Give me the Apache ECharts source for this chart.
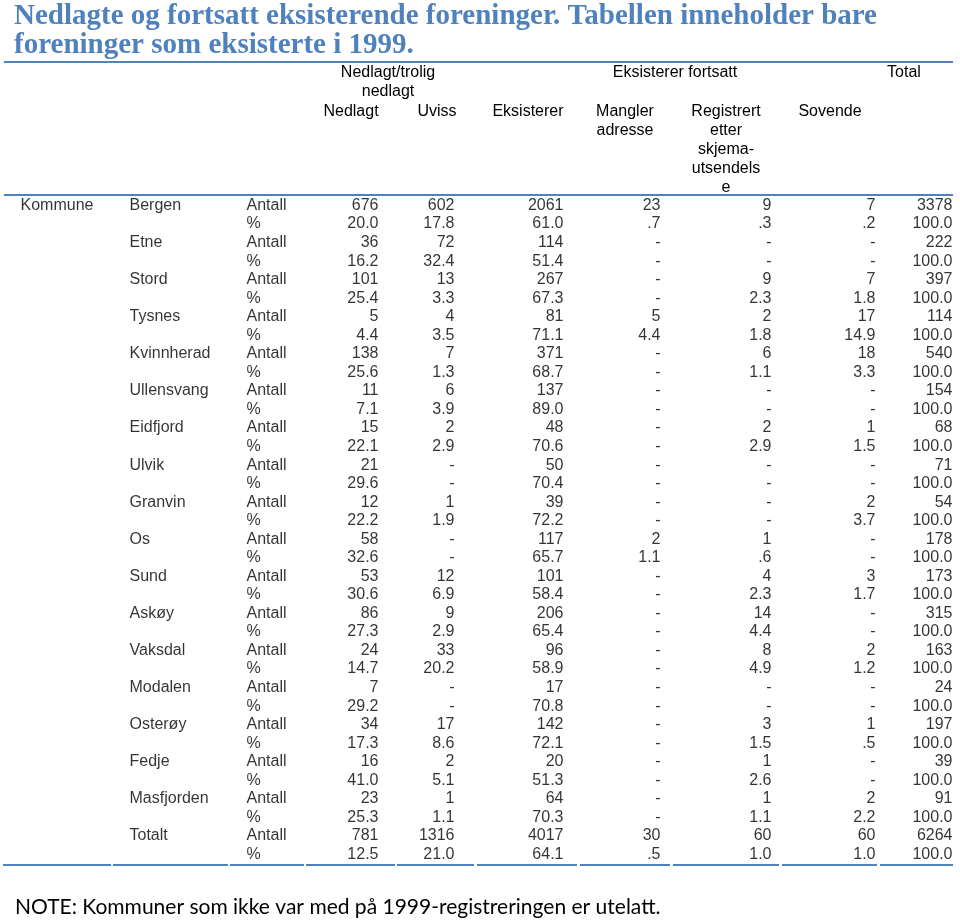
<!DOCTYPE html>
<html>
<head>
<meta charset="utf-8">
<script src="https://cdn.jsdelivr.net/npm/echarts@6/dist/echarts.min.js"></script>
<style>
  html, body { margin: 0; padding: 0; background: #fff; }
  #main { width: 960px; height: 920px; }
</style>
</head>
<body>
<div id="main"></div>
<script>
// kommuner i tabellen, siste rad er totalen
var kommuner = ['Bergen', 'Etne', 'Stord', 'Tysnes', 'Kvinnherad', 'Ullensvang', 'Eidfjord', 'Ulvik', 'Granvin',
  'Os', 'Sund', 'Askøy', 'Vaksdal', 'Modalen', 'Osterøy', 'Fedje', 'Masfjorden', 'Totalt'];

// null = "-"
var nedlagtAntall = [676, 36, 101, 5, 138, 11, 15, 21, 12, 58, 53, 86, 24, 7, 34, 16, 23, 781];
var nedlagtPst = [20.0, 16.2, 25.4, 4.4, 25.6, 7.1, 22.1, 29.6, 22.2, 32.6, 30.6, 27.3, 14.7, 29.2, 17.3, 41.0, 25.3, 12.5];
var uvissAntall = [602, 72, 13, 4, 7, 6, 2, null, 1, null, 12, 9, 33, null, 17, 2, 1, 1316];
var uvissPst = [17.8, 32.4, 3.3, 3.5, 1.3, 3.9, 2.9, null, 1.9, null, 6.9, 2.9, 20.2, null, 8.6, 5.1, 1.1, 21.0];
var eksAntall = [2061, 114, 267, 81, 371, 137, 48, 50, 39, 117, 101, 206, 96, 17, 142, 20, 64, 4017];
var eksPst = [61.0, 51.4, 67.3, 71.1, 68.7, 89.0, 70.6, 70.4, 72.2, 65.7, 58.4, 65.4, 58.9, 70.8, 72.1, 51.3, 70.3, 64.1];
var manglerAntall = [23, null, null, 5, null, null, null, null, null, 2, null, null, null, null, null, null, null, 30];
var manglerPst = [0.7, null, null, 4.4, null, null, null, null, null, 1.1, null, null, null, null, null, null, null, 0.5];
var regAntall = [9, null, 9, 2, 6, null, 2, null, null, 1, 4, 14, 8, null, 3, 1, 1, 60];
var regPst = [0.3, null, 2.3, 1.8, 1.1, null, 2.9, null, null, 0.6, 2.3, 4.4, 4.9, null, 1.5, 2.6, 1.1, 1.0];
var sovAntall = [7, null, 7, 17, 18, null, 1, null, 2, null, 3, null, 2, null, 1, null, 2, 60];
var sovPst = [0.2, null, 1.8, 14.9, 3.3, null, 1.5, null, 3.7, null, 1.7, null, 1.2, null, 0.5, null, 2.2, 1.0];
var totalAntall = [3378, 222, 397, 114, 540, 154, 68, 71, 54, 178, 173, 315, 163, 24, 197, 39, 91, 6264];
var totalPst = [100.0, 100.0, 100.0, 100.0, 100.0, 100.0, 100.0, 100.0, 100.0, 100.0, 100.0, 100.0, 100.0, 100.0, 100.0, 100.0, 100.0, 100.0];

var kolonneNavn = ['Nedlagt', 'Uviss', 'Eksisterer', 'Mangler\nadresse', 'Registrert\netter\nskjema-\nutsendels\ne', 'Sovende'];

// layout (piksler)
var BLUE = '#4F81BD';
var FONT = 'Liberation Sans';
var colRight = [379, 455, 564, 661, 772, 876, 953];
var colCenter = [351, 437, 528, 625, 726, 830];
var ruleSegs = [[3, 111], [113, 228], [230, 304], [306, 395], [397, 474], [477, 577], [580, 670], [673, 779], [782, 877], [880, 953]];

var kolonner = [
  [nedlagtAntall, nedlagtPst], [uvissAntall, uvissPst], [eksAntall, eksPst], [manglerAntall, manglerPst],
  [regAntall, regPst], [sovAntall, sovPst], [totalAntall, totalPst]
];

var rader = [];
kommuner.forEach(function (k) { rader.push(k + '|Antall'); rader.push(k + '|%'); });

function fmtPst(v) {
  if (v == null) return '-';
  var s = v.toFixed(1);
  if (s.indexOf('0.') === 0) s = s.substring(1);
  return s;
}
function fmtAnt(v) { return v == null ? '-' : String(v); }

var labelBase = { show: true, fontFamily: FONT, fontSize: 16, color: '#000', verticalAlign: 'middle', position: [0, 0] };

function textSeries(data, align) {
  return {
    type: 'scatter',
    silent: true,
    symbolSize: 1,
    itemStyle: { color: 'rgba(0,0,0,0)' },
    label: Object.assign({}, labelBase, { align: align, formatter: function (p) { return p.data[2]; } }),
    data: data
  };
}

var series = [];
kolonner.forEach(function (c, ci) {
  var d = [];
  kommuner.forEach(function (k, i) {
    d.push([colRight[ci], i * 2, fmtAnt(c[0][i])]);
    d.push([colRight[ci], i * 2 + 1, fmtPst(c[1][i])]);
  });
  series.push(textSeries(d, 'right'));
});

// venstre kolonner: Kommune, navn, Antall/%
var venstre = [[21, 0, 'Kommune']];
kommuner.forEach(function (k, i) {
  venstre.push([130, i * 2, k]);
  venstre.push([247, i * 2, 'Antall']);
  venstre.push([247, i * 2 + 1, '%']);
});
series.push(textSeries(venstre, 'left'));

var headStyle = { fontFamily: FONT, fontSize: 16, fill: '#000', textAlign: 'center', lineHeight: 19 };
var graphics = [
  { type: 'text', left: 14, top: 2, style: { text: 'Nedlagte og fortsatt eksisterende foreninger. Tabellen inneholder bare\nforeninger som eksisterte i 1999.',
    font: 'bold 29px "Liberation Serif"', fill: BLUE, lineHeight: 29 } },
  { type: 'line', shape: { x1: 4, y1: 62, x2: 953, y2: 62 }, style: { stroke: BLUE, lineWidth: 2 } },
  { type: 'line', shape: { x1: 4, y1: 195, x2: 953, y2: 195 }, style: { stroke: BLUE, lineWidth: 2 } },
  { type: 'text', x: 388, y: 63, style: Object.assign({}, headStyle, { text: 'Nedlagt/trolig\nnedlagt' }) },
  { type: 'text', x: 675, y: 63, style: Object.assign({}, headStyle, { text: 'Eksisterer fortsatt' }) },
  { type: 'text', x: 904, y: 63, style: Object.assign({}, headStyle, { text: 'Total' }) },
  { type: 'text', left: 15, top: 897, style: { text: 'NOTE: Kommuner som ikke var med på 1999-registreringen er utelatt.', font: '21px Lato', fill: '#000' } }
];
kolonneNavn.forEach(function (n, i) {
  graphics.push({ type: 'text', x: colCenter[i], y: 102, style: Object.assign({}, headStyle, { text: n }) });
});
ruleSegs.forEach(function (s) {
  graphics.push({ type: 'line', shape: { x1: s[0], y1: 865, x2: s[1], y2: 865 }, style: { stroke: BLUE, lineWidth: 2 } });
});

var chart = echarts.init(document.getElementById('main'));
chart.setOption({
  backgroundColor: '#fff',
  animation: false,
  grid: { left: 0, right: 0, top: 196.7, height: 667.6 },
  xAxis: { type: 'value', min: 0, max: 960, show: false },
  yAxis: { type: 'category', data: rader, inverse: true, show: false },
  series: series,
  graphic: graphics
});
</script>
</body>
</html>
